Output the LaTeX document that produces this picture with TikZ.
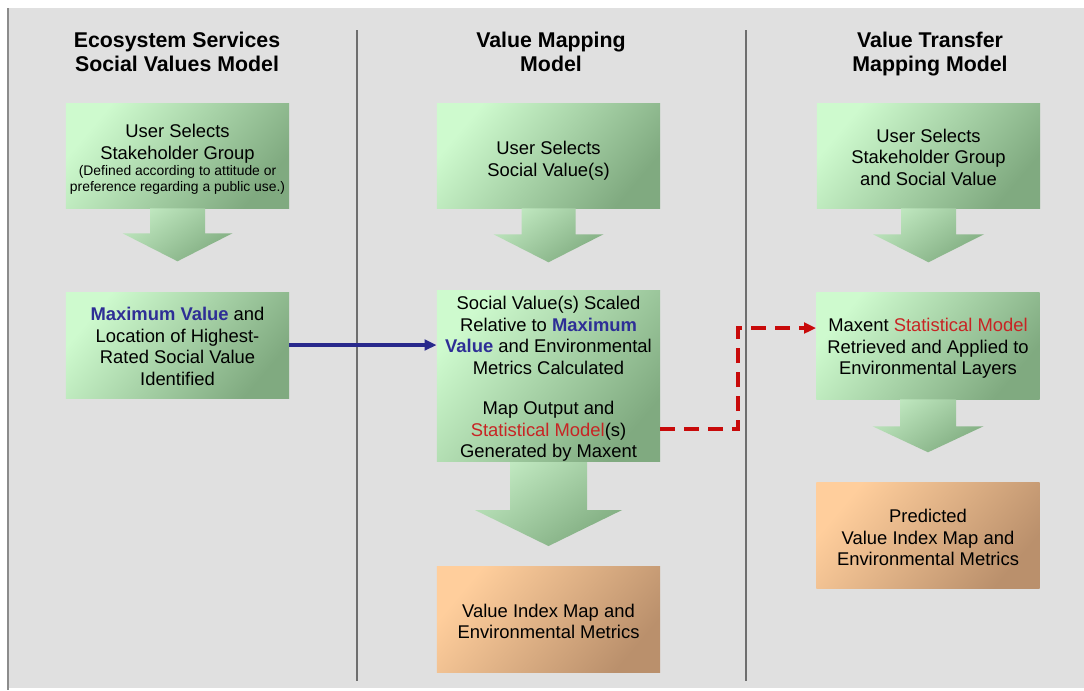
\documentclass[tikz,border=0pt]{standalone}
\usepackage{fontspec}
\setmainfont{Liberation Sans}
\usetikzlibrary{calc,arrows.meta}
\definecolor{bggray}{RGB}{224,224,224}
\definecolor{bordergray}{RGB}{140,140,140}
\definecolor{divgray}{RGB}{110,110,110}
\definecolor{glight}{RGB}{206,250,206}
\definecolor{gdark}{RGB}{128,170,128}
\definecolor{alight}{RGB}{192,232,192}
\definecolor{adark}{RGB}{128,172,128}
\definecolor{olight}{RGB}{255,206,156}
\definecolor{odark}{RGB}{186,144,108}
\definecolor{maxblue}{RGB}{46,46,150}
\definecolor{statred}{RGB}{200,36,36}
\definecolor{linkblue}{RGB}{40,40,140}
\definecolor{linkred}{RGB}{200,10,10}
\tikzset{
  bodyfont/.style={font=\fontsize{13.8}{16.2}\selectfont},
  greenbox/.style={bodyfont, align=center, inner sep=0pt, minimum width=167.5pt,
    top color=glight, bottom color=gdark, shading angle=50, draw=none},
  orangebox/.style={bodyfont, align=center, inner sep=0pt, minimum width=167.5pt,
    top color=olight, bottom color=odark, shading angle=50, draw=none},
  arrowfill/.style={top color=alight, bottom color=adark, shading angle=35},
  title/.style={font=\fontsize{16}{18}\selectfont\bfseries, align=center},
  divider/.style={draw=divgray, line width=0.8pt},
  bluelink/.style={draw=linkblue, line width=2.4pt, -{Triangle[length=9pt,width=8pt]}},
  redlink/.style={draw=linkred, line width=2.6pt, dash pattern=on 11pt off 7pt,
    -{Triangle[length=9pt,width=8pt]}}
}
\newcommand{\smalltxt}{\fontsize{10.4}{11.5}\selectfont}
\newcommand{\toprule}[1]{\rule{0pt}{#1}}
\newcommand{\blockarrow}[5]{%
  \shade[arrowfill] ($(#1.south)+(-#2,0)$) -- ++(0,#3) -- ++({#2-#4},0)
    -- ++({#4},{#5}) -- ++({#4},{-#5}) -- ++({#2-#4},0) -- ++(0,{-#3}) -- cycle;}
\begin{document}
\begin{tikzpicture}[x=0.75pt,y=-0.75pt]
\useasboundingbox (0,0) rectangle (1084,690);
\fill[white] (0,0) rectangle (1084,690);
\fill[bggray] (8,8) rectangle (1084,688);
\draw[bordergray, line width=1.6pt] (8,8) -- (8,690);
% dividers
\draw[divider] (357,30) -- (357,681);
\draw[divider] (746,30) -- (746,681);
% titles
\node[title] (t1) at (177,55) {\strut Ecosystem Services\\\strut Social Values Model};
\node[title] (t2) at (551,55) {\strut Value Mapping\\\strut Model};
\node[title] (t3) at (930,55) {\strut Value Transfer\\\strut Mapping Model};
% left column
\node[greenbox, minimum height=78.75pt] (b1) at (177.5,155.5)
  {\toprule{15pt}User Selects\\[1pt]Stakeholder Group\\[-4.5pt]\smalltxt (Defined according to attitude or\\[-4.5pt]\smalltxt preference regarding a public use.)};
\node[greenbox, minimum height=79.5pt] (b2) at (177.5,345)
  {\toprule{12pt}\textcolor{maxblue}{\textbf{Maximum Value}} and\\Location of Highest-\\Rated Social Value\\Identified};
% middle column
\node[greenbox, minimum height=78.75pt] (m1) at (548.5,155.5)
  {\toprule{18.2pt}User Selects\\Social Value(s)};
\node[greenbox, minimum height=126pt] (m2) at (548.5,376)
  {\toprule{14.6pt}Social Value(s) Scaled\\Relative to \textcolor{maxblue}{\textbf{Maximum}}\\\textcolor{maxblue}{\textbf{Value}} and Environmental\\Metrics Calculated\\[14pt]Map Output and\\\textcolor{statred}{Statistical Model}(s)\\Generated by Maxent};
\node[orangebox, minimum height=79.5pt] (m3) at (548.5,619)
  {\toprule{13.5pt}Value Index Map and\\Environmental Metrics};
% right column
\node[greenbox, minimum height=78.75pt] (r1) at (928.5,155.5)
  {\toprule{12.5pt}User Selects\\Stakeholder Group\\and Social Value};
\node[greenbox, minimum height=80.25pt] (r2) at (928,345.5)
  {\toprule{14.2pt}Maxent \textcolor{statred}{Statistical Model}\\Retrieved and Applied to\\Environmental Layers};
\node[orangebox, minimum height=79.5pt] (r3) at (928,535)
  {\toprule{13.8pt}Predicted\\Value Index Map and\\Environmental Metrics};
% block arrows
\blockarrow{b1}{27.5}{25}{55}{28}
\blockarrow{m1}{27}{26}{55}{28}
\blockarrow{r1}{27.5}{26}{55.5}{28}
\blockarrow{m2}{38.5}{48}{73.5}{36}
\blockarrow{r2}{28}{27}{55.5}{26}
% connectors
\draw[bluelink] (b2.east) -- (b2.east -| m2.west);
\coordinate (ra) at (660,429);
\coordinate (rb) at (738,429);
\coordinate (rc) at (738,328);
\draw[redlink] (ra) -- (rb) -- (rc) -- (rc -| r2.west);
\end{tikzpicture}
\end{document}
